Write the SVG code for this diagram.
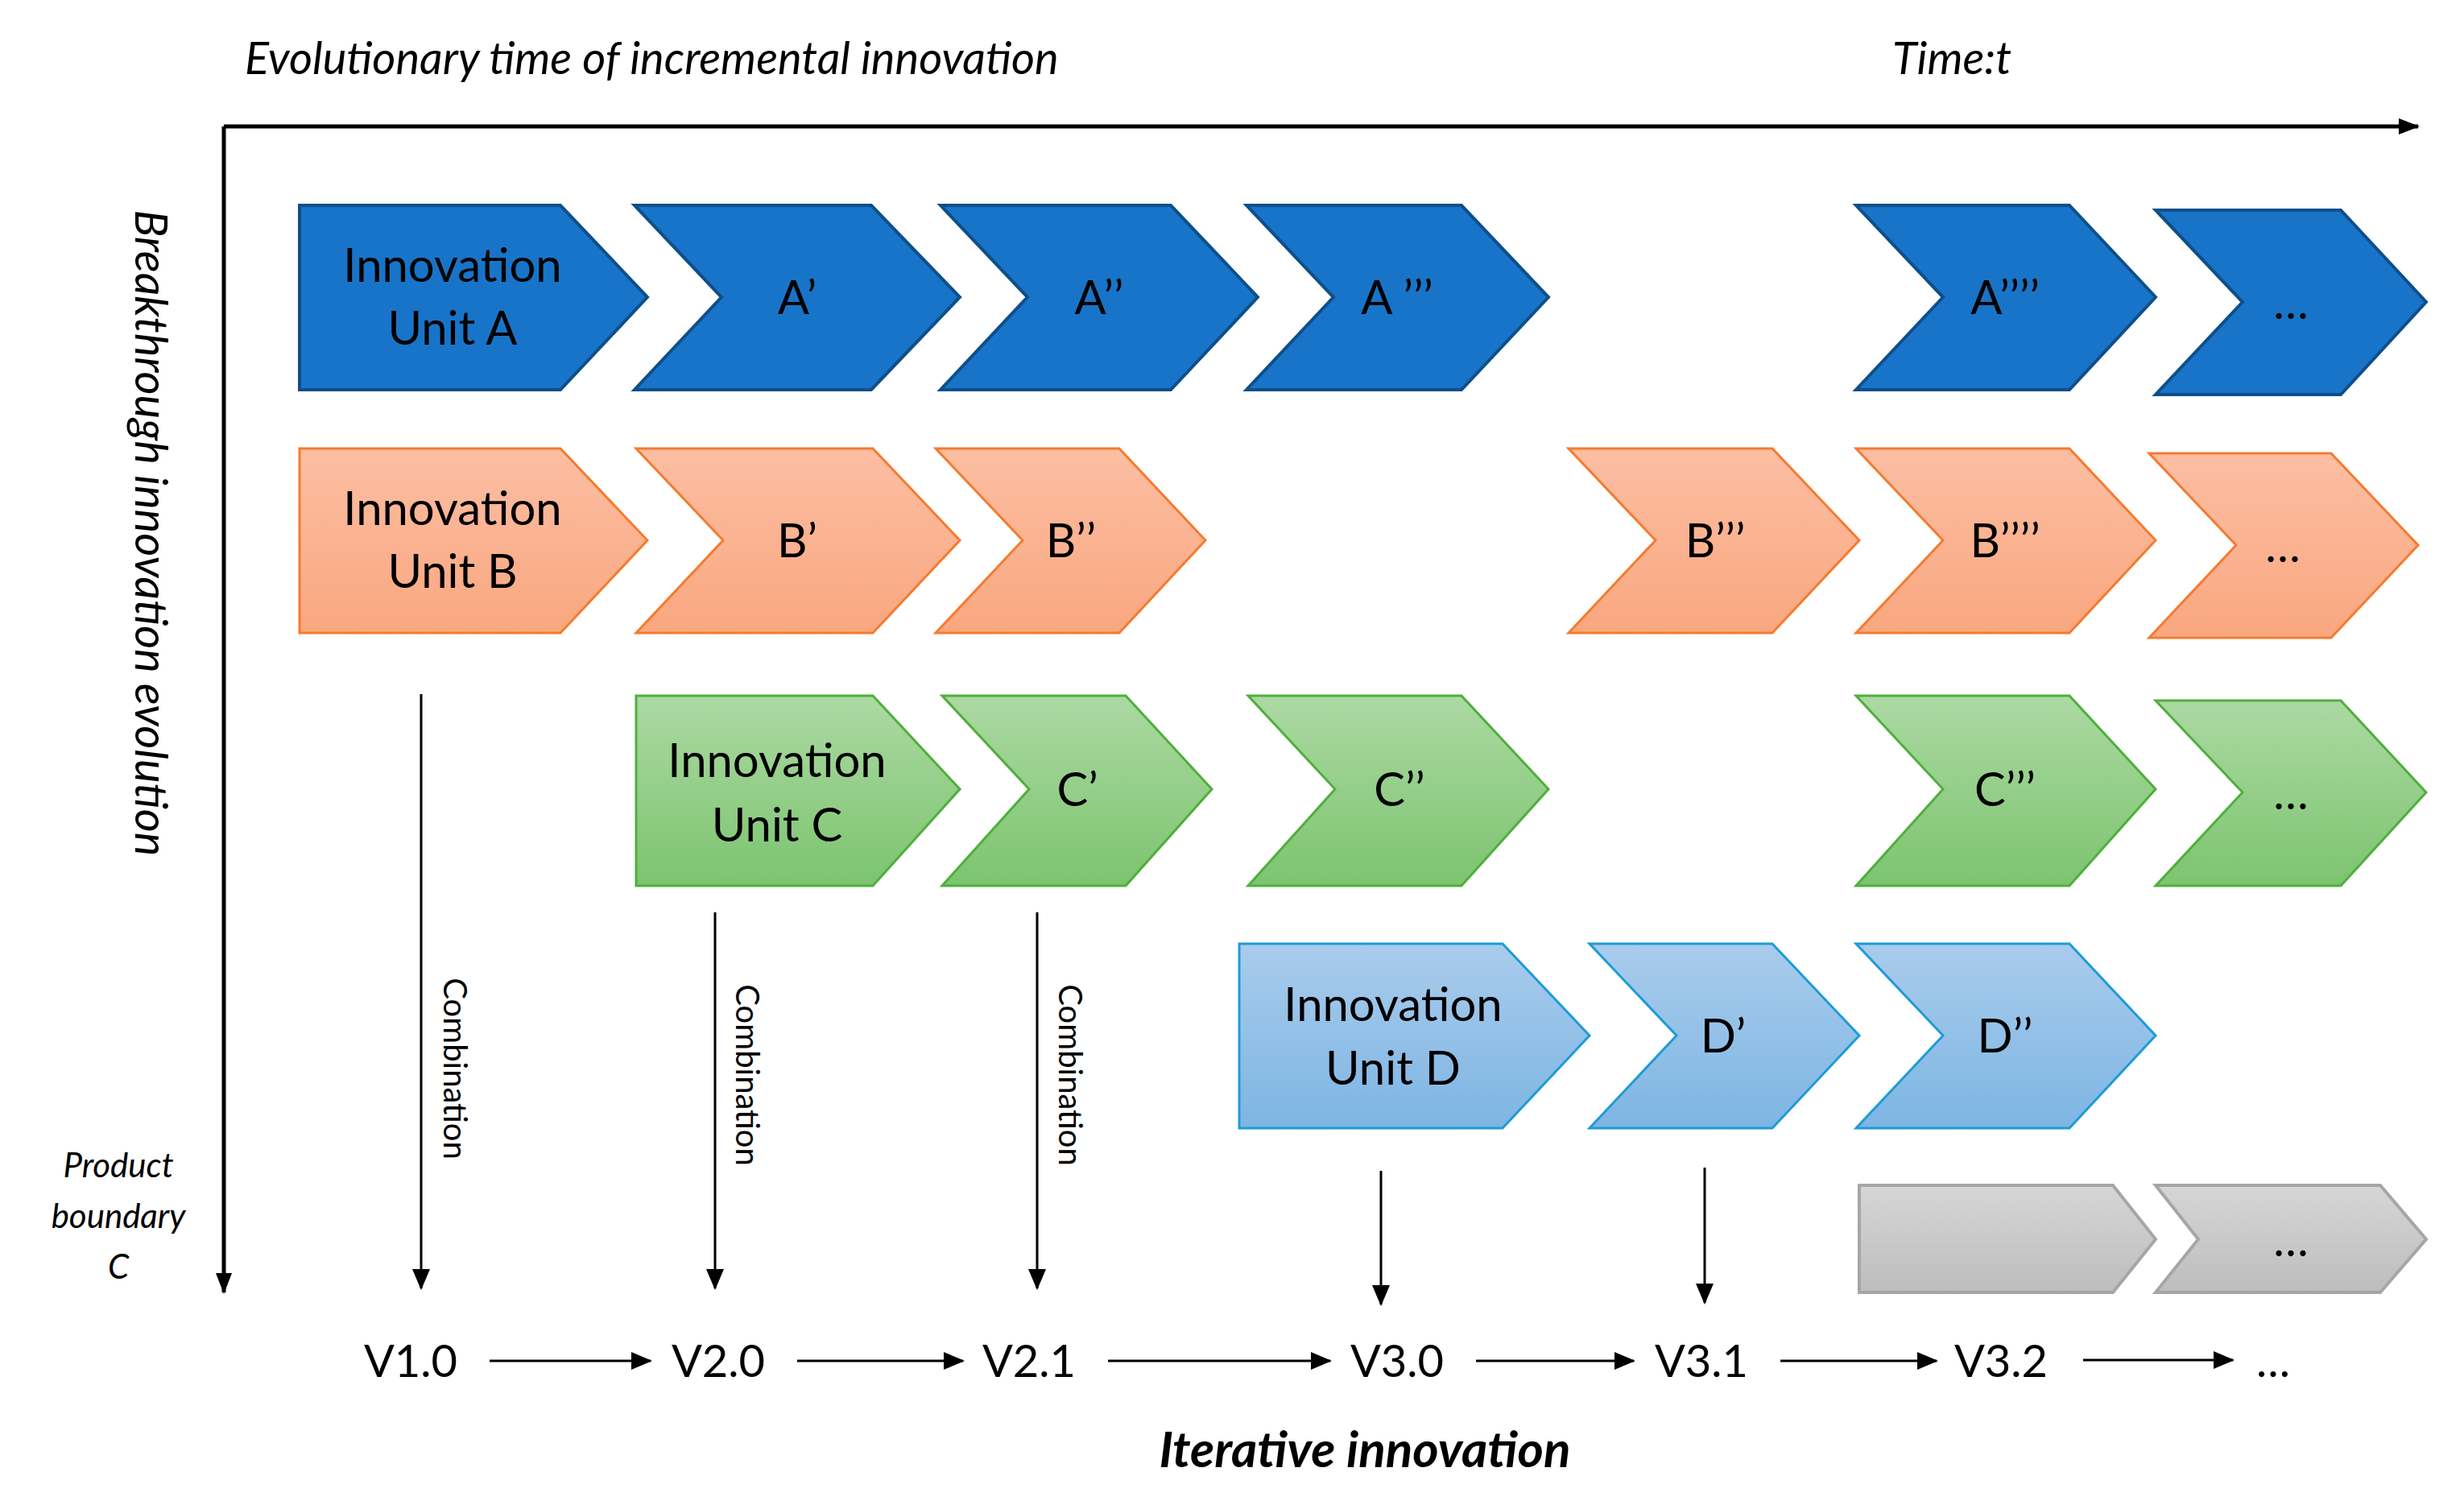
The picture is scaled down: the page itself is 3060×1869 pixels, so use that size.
<svg xmlns="http://www.w3.org/2000/svg" width="3060" height="1869" viewBox="0 0 3060 1869">
<style>
text{font-family:Lato,"Open Sans","Liberation Sans",sans-serif;fill:#000}
.n{font-size:58px;text-anchor:middle}
.a{fill:#1874C8;stroke:#0E4F8A;stroke-width:4}
.b{fill:url(#gb);stroke:#F47B2E;stroke-width:3}
.c{fill:url(#gc);stroke:#4FAF3C;stroke-width:3}
.d{fill:url(#gd);stroke:#1E9BD7;stroke-width:3}
.g{fill:url(#gg);stroke:#A6A6A6;stroke-width:4}
.ln{stroke:#000;stroke-width:3;fill:none;marker-end:url(#ar)}
.ax{stroke:#000;stroke-width:5;fill:none;marker-end:url(#ar2)}
.cb{font-size:40px;text-anchor:middle}
.v{font-size:56px;text-anchor:middle}
.pb{font-size:42px;font-style:italic;text-anchor:middle}
</style>
<defs>
<linearGradient id="gb" x1="0" y1="0" x2="0" y2="1"><stop offset="0" stop-color="#FCBEA3"/><stop offset="1" stop-color="#F9A77F"/></linearGradient>
<linearGradient id="gc" x1="0" y1="0" x2="0" y2="1"><stop offset="0" stop-color="#ACD9A3"/><stop offset="1" stop-color="#7CC46F"/></linearGradient>
<linearGradient id="gd" x1="0" y1="0" x2="0" y2="1"><stop offset="0" stop-color="#A9CCEC"/><stop offset="1" stop-color="#7DB5E3"/></linearGradient>
<linearGradient id="gg" x1="0" y1="0" x2="0" y2="1"><stop offset="0" stop-color="#D6D6D6"/><stop offset="1" stop-color="#BDBDBD"/></linearGradient>
<marker id="ar" markerWidth="10" markerHeight="8" refX="9" refY="4" orient="auto" markerUnits="userSpaceOnUse" viewBox="0 0 10 8"><path d="M0,0L10,4L0,8z" fill="#000"/></marker>
<marker id="ar2" markerWidth="26" markerHeight="20" refX="24" refY="10" orient="auto" markerUnits="userSpaceOnUse"><path d="M0,0L26,10L0,20z" fill="#000"/></marker>
</defs>
<style>.ln{marker-end:url(#ar3)}</style>
<defs><marker id="ar3" markerWidth="26" markerHeight="22" refX="24" refY="11" orient="auto" markerUnits="userSpaceOnUse"><path d="M0,0L26,11L0,22z" fill="#000"/></marker></defs>

<g id="axes">
<text x="304" y="92" font-size="56" font-style="italic">Evolutionary time of incremental innovation</text>
<text x="2350" y="92" font-size="56" font-style="italic">Time:t</text>
<path class="ax" d="M278,157H3003"/>
<path class="ax" d="M278,157V1605"/>
<text transform="translate(168,662) rotate(90)" font-size="56" font-style="italic" text-anchor="middle">Breakthrough innovation evolution</text>
</g>

<g id="unitA"><path class="a" d="M372,255H696L804,369L696,484H372Z"/><text class="n" x="562" y="350">Innovation</text><text class="n" x="562" y="428">Unit A</text></g>
<g id="A1"><path class="a" d="M788,255H1082L1192,369L1082,484H788L896,369Z"/><text class="n" x="990" y="390">A’</text></g>
<g id="A2"><path class="a" d="M1168,255H1454L1562,369L1454,484H1168L1276,369Z"/><text class="n" x="1365" y="390">A’’</text></g>
<g id="A3"><path class="a" d="M1548,255H1815L1923,369L1815,484H1548L1656,369Z"/><text class="n" x="1735" y="390">A ’’’</text></g>
<g id="A4"><path class="a" d="M2305,255H2570L2677,369L2570,484H2305L2413,369Z"/><text class="n" x="2490" y="390">A’’’’</text></g>
<g id="A5"><path class="a" d="M2677,261H2907L3013,375L2907,490H2677L2785,375Z"/><text class="n" x="2845" y="396">…</text></g>

<g id="unitB"><path class="b" d="M372,557H696L804,671L696,786H372Z"/><text class="n" x="562" y="652">Innovation</text><text class="n" x="562" y="730">Unit B</text></g>
<g id="B1"><path class="b" d="M790,557H1084L1192,671L1084,786H790L898,671Z"/><text class="n" x="990" y="692">B’</text></g>
<g id="B2"><path class="b" d="M1162,557H1390L1497,671L1390,786H1162L1270,671Z"/><text class="n" x="1330" y="692">B’’</text></g>
<g id="B3"><path class="b" d="M1948,557H2201L2309,671L2201,786H1948L2056,671Z"/><text class="n" x="2130" y="692">B’’’</text></g>
<g id="B4"><path class="b" d="M2305,557H2570L2677,671L2570,786H2305L2413,671Z"/><text class="n" x="2490" y="692">B’’’’</text></g>
<g id="B5"><path class="b" d="M2669,563H2895L3003,677L2895,792H2669L2777,677Z"/><text class="n" x="2835" y="698">…</text></g>

<g id="unitC"><path class="c" d="M790,864H1084L1192,980L1084,1100H790Z"/><text class="n" x="965" y="965">Innovation</text><text class="n" x="965" y="1045">Unit C</text></g>
<g id="C1"><path class="c" d="M1170,864H1398L1505,980L1398,1100H1170L1278,980Z"/><text class="n" x="1338" y="1001">C’</text></g>
<g id="C2"><path class="c" d="M1550,864H1815L1923,980L1815,1100H1550L1658,980Z"/><text class="n" x="1738" y="1001">C’’</text></g>
<g id="C3"><path class="c" d="M2305,864H2570L2677,980L2570,1100H2305L2413,980Z"/><text class="n" x="2490" y="1001">C’’’</text></g>
<g id="C4"><path class="c" d="M2677,870H2907L3013,984L2907,1100H2677L2785,984Z"/><text class="n" x="2845" y="1005">…</text></g>

<g id="unitD"><path class="d" d="M1539,1172H1866L1974,1286L1866,1401H1539Z"/><text class="n" x="1730" y="1268">Innovation</text><text class="n" x="1730" y="1347">Unit D</text></g>
<g id="D1"><path class="d" d="M1974,1172H2201L2309,1286L2201,1401H1974L2082,1286Z"/><text class="n" x="2140" y="1307">D’</text></g>
<g id="D2"><path class="d" d="M2305,1172H2570L2677,1286L2570,1401H2305L2413,1286Z"/><text class="n" x="2490" y="1307">D’’</text></g>

<g id="G1"><path class="g" d="M2309,1472H2624L2677,1539L2624,1605H2309Z"/></g>
<g id="G2"><path class="g" d="M2677,1472H2956L3013,1539L2956,1605H2677L2730,1539Z"/><text class="n" x="2845" y="1560">…</text></g>

<g id="pb"><text class="pb" x="147" y="1462">Product</text><text class="pb" x="147" y="1525">boundary</text><text class="pb" x="147" y="1588">C</text></g>

<g id="versions">
<text class="v" x="510" y="1710">V1.0</text>
<text class="v" x="892" y="1710">V2.0</text>
<text class="v" x="1278" y="1710">V2.1</text>
<text class="v" x="1735" y="1710">V3.0</text>
<text class="v" x="2113" y="1710">V3.1</text>
<text class="v" x="2485" y="1710">V3.2</text>
<text class="v" x="2823" y="1710">…</text>
</g>

<g id="connectors">
<path class="ln" d="M523,862V1600"/>
<path class="ln" d="M888,1133V1600"/>
<path class="ln" d="M1288,1133V1600"/>
<path class="ln" d="M1715,1454V1620"/>
<path class="ln" d="M2117,1450V1618"/>
<path class="ln" d="M608,1690H808"/>
<path class="ln" d="M990,1690H1196"/>
<path class="ln" d="M1376,1690H1652"/>
<path class="ln" d="M1833,1690H2029"/>
<path class="ln" d="M2211,1690H2405"/>
<path class="ln" d="M2587,1689H2773"/>
<text class="cb" transform="translate(551,1327) rotate(90)">Combination</text>
<text class="cb" transform="translate(914,1335) rotate(90)">Combination</text>
<text class="cb" transform="translate(1315,1335) rotate(90)">Combination</text>
</g>

<text x="1695" y="1822" font-size="62" font-style="italic" font-weight="bold" text-anchor="middle">Iterative innovation</text>
</svg>
